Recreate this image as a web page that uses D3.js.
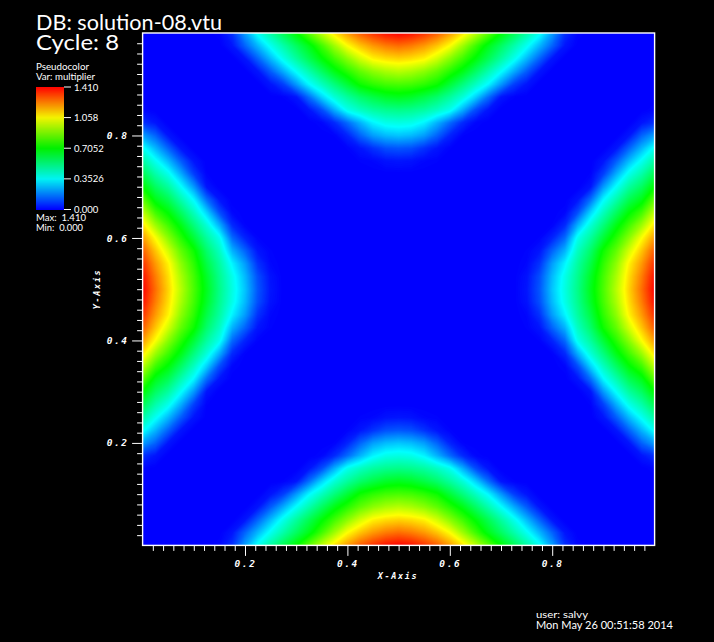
<!DOCTYPE html>
<html><head><meta charset="utf-8">
<style>
html,body{margin:0;padding:0;background:#000;overflow:hidden}
svg{display:block}
text{fill:#fff}
.ann{font-family:Lato,sans-serif;white-space:pre}
.tk{font-family:"DejaVu Sans Mono",monospace;font-style:italic;font-size:9.5px;letter-spacing:1.6px;font-weight:bold}
</style>
<script src="https://cdn.jsdelivr.net/npm/d3@7/dist/d3.min.js"></script>
</head><body>
<script>
const titleLines=["DB: solution-08.vtu","Cycle: 8"];
const legendTitle=["Pseudocolor","Var: multiplier"];
const legendValues=[1.41,1.058,0.7052,0.3526,0];
const legendLabels=["1.410","1.058","0.7052","0.3526","0.000"];
const statLines=["Max:  1.410","Min:  0.000"];
const footer=["user: salvy","Mon May 26 00:51:58 2014"];
const majorTicks=[0.2,0.4,0.6,0.8];
const minorTicks=d3.range(1,50).map(i=>i/50).filter(t=>!majorTicks.includes(+t.toFixed(2)));
const colorStops=["#0000ff","#00ffff","#00ff00","#ffff00","#ff0000"];
// Field, steps of 0.025: rows = depth from the outer edge (0..0.25),
// columns = position along that edge, corner (0) to mid-edge (0.5).
const lobe=[
[0,0,0,0,0,0,.01,.07,.224,.375,.485,.595,.705,.84,.972,1.10,1.2,1.285,1.345,1.39,1.41],
[0,0,0,0,0,0,0,.03,.14,.256,.373,.473,.573,.673,.795,.926,1.058,1.14,1.2,1.24,1.26],
[0,0,0,0,0,0,0,0,.03,.14,.26,.382,.487,.592,.697,.797,.897,.998,1.075,1.105,1.12],
[0,0,0,0,0,0,0,0,0,.03,.13,.242,.361,.466,.571,.676,.76,.84,.90,.94,.96],
[0,0,0,0,0,0,0,0,0,0,.03,.09,.214,.347,.443,.537,.63,.725,.77,.80,.81],
[0,0,0,0,0,0,0,0,0,0,0,.005,.03,.155,.294,.41,.49,.56,.61,.65,.665],
[0,0,0,0,0,0,0,0,0,0,0,0,0,.03,.11,.248,.38,.44,.485,.51,.52],
[0,0,0,0,0,0,0,0,0,0,0,0,0,0,.01,.06,.15,.25,.34,.385,.395],
[0,0,0,0,0,0,0,0,0,0,0,0,0,0,0,.005,.05,.14,.22,.26,.275],
[0,0,0,0,0,0,0,0,0,0,0,0,0,0,0,0,.005,.03,.07,.11,.12],
[0,0,0,0,0,0,0,0,0,0,0,0,0,0,0,0,0,.005,.01,.025,.03]];

const W=714,H=642;
const svg=d3.select("body").append("svg").attr("width",W).attr("height",H);
const x=d3.scaleLinear().domain([0,1]).range([142.6,654.6]);
const y=d3.scaleLinear().domain([0,1]).range([545.4,33]);
const color=d3.scaleLinear().domain(d3.range(5).map(i=>1.41*i/4)).range(colorStops).clamp(true);

// field: the four edge lobes share the table above
const n=41;
const values=[];
const fold=i=>i<=20?i:40-i;
const depth=(a,b)=>(lobe[a]?lobe[a][b]:0);
for(let j=0;j<n;j++)for(let i=0;i<n;i++){
  const u=fold(i),v=fold(j);
  values.push(Math.max(depth(v,u),depth(u,v)));
}
svg.append("defs").append("clipPath").attr("id","plot").append("rect")
 .attr("x",x(0)).attr("y",y(1)).attr("width",x(1)-x(0)).attr("height",y(0)-y(1));
const thresholds=d3.range(1,321).map(i=>1.41*i/320);
const contours=d3.contours().size([n,n]).thresholds(thresholds)(values);
const proj=d3.geoTransform({point(a,b){this.stream.point(x((a-.5)/(n-1)),y((b-.5)/(n-1)));}});
const path=d3.geoPath(proj);
const field=svg.append("g").attr("clip-path","url(#plot)");
field.append("rect").attr("x",x(0)).attr("y",y(1)).attr("width",x(1)-x(0)).attr("height",y(0)-y(1)).attr("fill",color(0));
field.selectAll("path").data(contours).join("path").attr("d",path).attr("fill",d=>color(d.value));

// axes
function style(g){g.select(".domain").remove();g.selectAll("line").attr("stroke","#fff").attr("stroke-width",1);}
svg.append("g").attr("transform",`translate(0,${y(0)})`).call(d3.axisBottom(x).tickValues(minorTicks).tickSize(5.5).tickFormat("")).call(style);
svg.append("g").attr("transform",`translate(0,${y(0)})`).call(d3.axisBottom(x).tickValues(majorTicks).tickSize(10.5).tickFormat(d3.format(".1f")))
 .call(style).call(g=>g.selectAll("text").attr("class","tk").attr("y",15).attr("dy","0.7em").attr("fill","#fff"));
svg.append("g").attr("transform",`translate(${x(0)},0)`).call(d3.axisLeft(y).tickValues(minorTicks).tickSize(5.5).tickFormat("")).call(style);
svg.append("g").attr("transform",`translate(${x(0)},0)`).call(d3.axisLeft(y).tickValues(majorTicks).tickSize(10.5).tickFormat(d3.format(".1f")))
 .call(style).call(g=>g.selectAll("text").attr("class","tk").attr("x",-14).attr("fill","#fff"));
svg.append("rect").attr("x",x(0)).attr("y",y(1)).attr("width",x(1)-x(0)).attr("height",y(0)-y(1))
 .attr("fill","none").attr("stroke","#fff").attr("stroke-width",1.4);
svg.append("text").attr("class","tk").attr("x",398).attr("y",579).attr("text-anchor","middle").style("font-size","8.5px").text("X-Axis");
svg.append("text").attr("class","tk").attr("transform","translate(100,289) rotate(-90)").attr("text-anchor","middle").style("font-size","8.5px").text("Y-Axis");

// titles
const ann=(t,px,py,size,len)=>svg.append("text").attr("class","ann").attr("x",px).attr("y",py).attr("font-size",size).attr("textLength",len).attr("lengthAdjust","spacingAndGlyphs").text(t);
ann(titleLines[0],36,30,21,186);
ann(titleLines[1],36,50,21,83);
ann(legendTitle[0],36,70,9.5,53);
ann(legendTitle[1],36,80,9.5,59);
ann(statLines[0],36,220.7,9,50);
ann(statLines[1],36,230.7,9,47);
ann(footer[0],536,617.7,10,52);
ann(footer[1],536,629,10.5,137);

// legend
const ly=d3.scaleLinear().domain([0,1.41]).range([209.5,87]);
const steps=d3.range(0,1.41,1.41/122);
svg.append("g").selectAll("rect").data(steps).join("rect")
 .attr("x",36).attr("width",28).attr("y",d=>ly(d+1.41/122)).attr("height",ly(0)-ly(1.41/122)+.5).attr("fill",d=>color(d));
svg.append("g").selectAll("line").data(legendValues).join("line")
 .attr("x1",64).attr("x2",71).attr("y1",d=>ly(d)).attr("y2",d=>ly(d)).attr("stroke","#fff");
svg.append("g").selectAll("text").data(legendValues).join("text").attr("class","ann")
 .attr("x",74).attr("y",d=>ly(d)+3.5).attr("font-size",9.5).text((d,i)=>legendLabels[i]);
</script>
</body></html>
